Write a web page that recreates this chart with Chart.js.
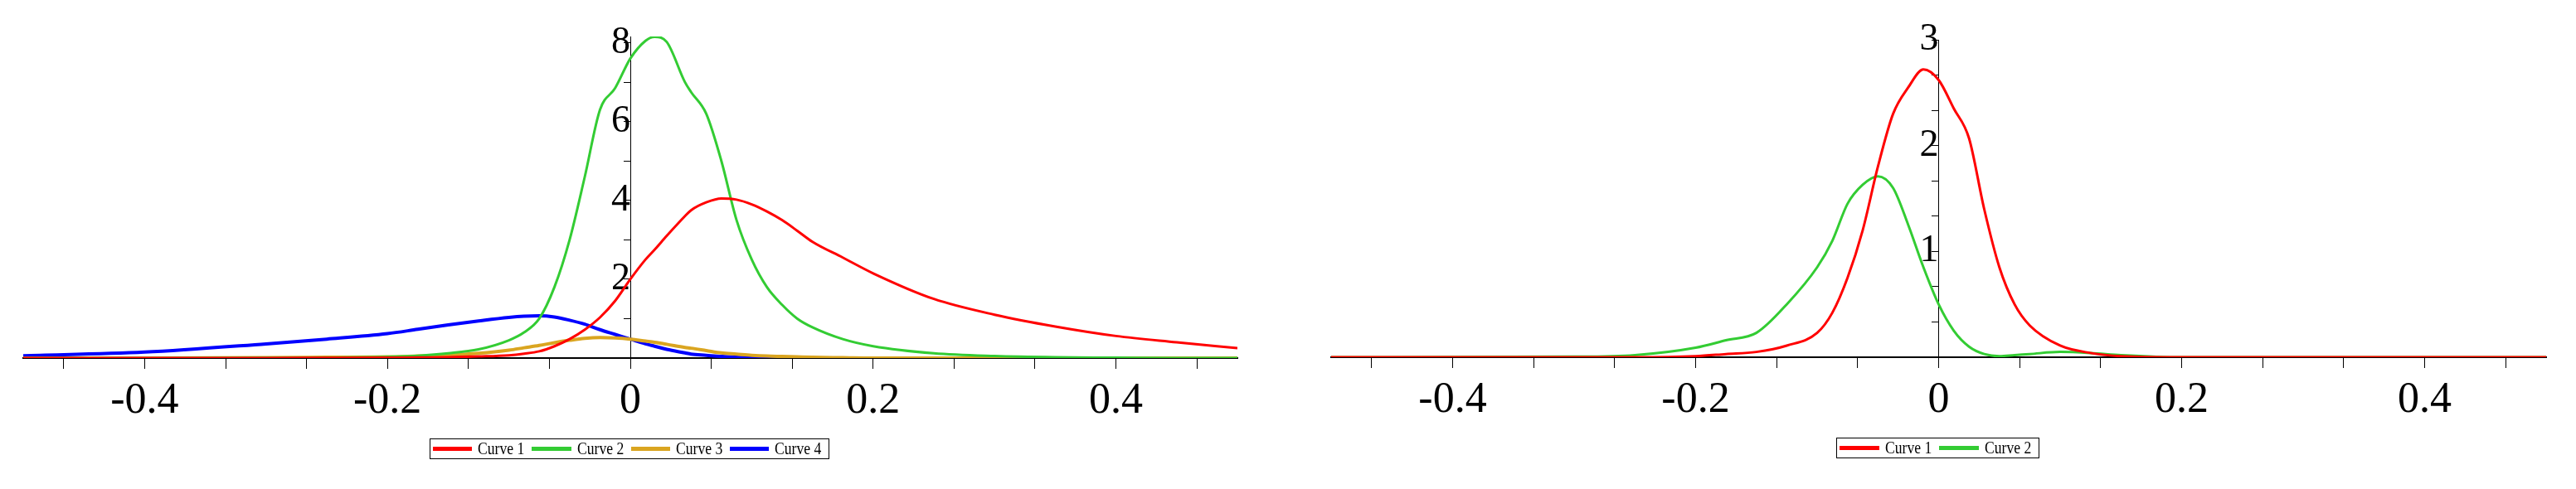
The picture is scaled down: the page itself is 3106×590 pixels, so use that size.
<!DOCTYPE html>
<html>
<head>
<meta charset="utf-8">
<script src="https://cdn.jsdelivr.net/npm/chart.js@4/dist/chart.umd.min.js"></script>
<style>
  body { margin: 0; background: #fff; width: 3106px; height: 590px; overflow: hidden; }
  .panel { position: absolute; top: 0; width: 1553px; height: 590px; }
  .legend { position: absolute; border: 1px solid #000; height: 25px; display: flex; align-items: center;
            font-family: 'Liberation Serif', serif; font-size: 20px; padding: 0 0 0 3px; box-sizing: border-box; }
  .legend .sw { display: inline-block; width: 48px; height: 5px; margin-right: 7px; }
  .legend .tx { display: inline-block; width: 58px; margin-right: 7px; white-space: nowrap; }
  .legend .tx span { display: inline-block; transform: scaleX(0.88); transform-origin: left center; }
</style>
</head>
<body>
<div class="panel" style="left:0"><canvas id="left"></canvas>
  <div class="legend" id="legLeft" style="left:518px; top:529px; width:482px"></div></div>
<div class="panel" style="left:1553px"><canvas id="right"></canvas>
  <div class="legend" id="legRight" style="left:661px; top:528px; width:245px"></div></div>
<script>
// --- ДАННЫЕ: левый график ---
const xLeft = [-0.5, -0.4, -0.3, -0.25, -0.2, -0.175, -0.15, -0.125, -0.1, -0.0875, -0.075, -0.0625, -0.05, -0.0375, -0.025, -0.0125, 0, 0.0125, 0.02, 0.03, 0.045, 0.05, 0.0625, 0.075, 0.0875, 0.1, 0.1125, 0.125, 0.1375, 0.15, 0.175, 0.2, 0.25, 0.3, 0.35, 0.4, 0.45, 0.5];
const leftCurve1 = [0, 0, 0, 0.005, 0.01, 0.015, 0.02, 0.04, 0.07, 0.11, 0.17, 0.3, 0.48, 0.72, 1.03, 1.45, 2.0, 2.5, 2.75, 3.1, 3.6, 3.75, 3.95, 4.05, 4.02, 3.9, 3.72, 3.5, 3.23, 2.95, 2.55, 2.15, 1.5, 1.1, 0.8, 0.56, 0.4, 0.25];
const leftCurve2 = [0, 0, 0.005, 0.01, 0.03, 0.06, 0.12, 0.22, 0.45, 0.65, 1.0, 1.8, 3.0, 4.6, 6.3, 6.85, 7.6, 8.05, 8.15, 8.02, 7.0, 6.75, 6.2, 5.0, 3.5, 2.5, 1.8, 1.35, 1.0, 0.78, 0.48, 0.3, 0.12, 0.05, 0.02, 0.01, 0, 0];
const leftCurve3 = [0, 0, 0.01, 0.02, 0.03, 0.05, 0.07, 0.12, 0.2, 0.26, 0.32, 0.39, 0.45, 0.5, 0.52, 0.51, 0.48, 0.43, 0.4, 0.35, 0.27, 0.25, 0.19, 0.13, 0.1, 0.07, 0.05, 0.04, 0.03, 0.02, 0.01, 0, 0, 0, 0, 0, 0, 0];
const leftCurve4 = [0.06, 0.15, 0.36, 0.48, 0.62, 0.73, 0.84, 0.94, 1.03, 1.06, 1.07, 1.04, 0.96, 0.86, 0.72, 0.6, 0.48, 0.36, 0.3, 0.22, 0.13, 0.1, 0.07, 0.04, 0.02, 0.01, 0, 0, 0, 0, 0, 0, 0, 0, 0, 0, 0, 0];

// --- ДАННЫЕ: правый график ---
const xRight = [-0.5, -0.3, -0.25, -0.2, -0.175, -0.15, -0.125, -0.1, -0.0875, -0.075, -0.0625, -0.05, -0.0375, -0.025, -0.0125, 0, 0.0125, 0.025, 0.0375, 0.05, 0.0625, 0.075, 0.1, 0.125, 0.15, 0.2, 0.3, 0.5];
const rightCurve1 = [0, 0, 0, 0.01, 0.03, 0.05, 0.11, 0.23, 0.42, 0.75, 1.2, 1.8, 2.3, 2.55, 2.72, 2.62, 2.35, 2.07, 1.4, 0.85, 0.5, 0.3, 0.11, 0.04, 0.01, 0, 0, 0];
const rightCurve2 = [0, 0.005, 0.02, 0.09, 0.16, 0.23, 0.5, 0.85, 1.1, 1.45, 1.63, 1.71, 1.6, 1.25, 0.85, 0.5, 0.25, 0.1, 0.03, 0.01, 0.02, 0.03, 0.05, 0.04, 0.02, 0, 0, 0];

const xTickLabels = ['-0.4', '-0.2', '0', '0.2', '0.4'];
const labelsLeft = ['Curve 1', 'Curve 2', 'Curve 3', 'Curve 4'];
const labelsRight = ['Curve 1', 'Curve 2'];
const colors = ['#ff0000', '#33cc33', '#daa520', '#0000ff'];

const FONT = "'Liberation Serif', 'DejaVu Serif', serif";

function pts(xs, ys) { return xs.map((x, i) => ({ x: x, y: ys[i] })); }

function ds(label, xs, ys, color, width) {
  return { label, data: pts(xs, ys), borderColor: color, borderWidth: width, pointRadius: 0,
           cubicInterpolationMode: 'monotone', fill: false };
}

// тики: мелкие деления + подписи только на некоторых
function stepTicks(min, max, step) {
  const out = [];
  for (let v = min; v <= max + 1e-9; v += step) out.push({ value: +v.toFixed(6) });
  return out;
}

function makeChart(id, datasets, yMax, yStep, yLabelEvery, pad, xHeight) {
  new Chart(document.getElementById(id), {
    type: 'line',
    data: { datasets },
    options: {
      responsive: false, animation: false,
      layout: { padding: pad },
      plugins: { legend: { display: false }, tooltip: { enabled: false } },
      scales: {
        x: {
          type: 'linear', min: -0.5, max: 0.5,
          afterBuildTicks: s => { s.ticks = stepTicks(-0.5 + 0.2 / 6, 0.5, 0.2 / 3); },
          afterFit: s => { s.height = xHeight; },
          ticks: {
            autoSkip: false, maxRotation: 0, padding: 8, color: '#000',
            font: { family: FONT, size: 52 },
            callback: v => {
              const k = Math.round(v / 0.2);
              if (Math.abs(v - k * 0.2) > 1e-4) return '';
              const lab = (k * 0.2).toFixed(1).replace(/^0\.0$|^-0\.0$/, '0');
              return xTickLabels.includes(lab) ? lab : '';
            }
          },
          grid: { drawOnChartArea: false, tickLength: 13, color: '#000', lineWidth: 1 },
          border: { color: '#000', width: 2 }
        },
        y: {
          type: 'linear', min: 0, max: yMax, position: { x: 0 },
          afterBuildTicks: s => { s.ticks = stepTicks(0, yMax, yStep); },
          ticks: {
            autoSkip: false, padding: 12, color: '#000',
            font: { family: FONT, size: 46 },
            callback: v => {
              const n = Math.round(v / yLabelEvery);
              if (v < 1e-6 || Math.abs(v - n * yLabelEvery) > 1e-4) return '';
              return String(Math.round(v));
            }
          },
          grid: { drawOnChartArea: false, tickLength: 8, color: '#000', lineWidth: 1 },
          border: { color: '#000', width: 1 }
        }
      }
    }
  });
}

function makeLegend(id, labels) {
  const el = document.getElementById(id);
  labels.forEach((l, i) => {
    el.insertAdjacentHTML('beforeend',
      `<span class="sw" style="background:${colors[i]}"></span><span class="tx"><span>${l}</span></span>`);
  });
}

for (const id of ['left', 'right']) {
  const c = document.getElementById(id); c.width = 1553; c.height = 590;
}

makeChart('left', [
  ds(labelsLeft[0], xLeft, leftCurve1, colors[0], 3),
  ds(labelsLeft[1], xLeft, leftCurve2, colors[1], 3),
  ds(labelsLeft[2], xLeft, leftCurve3, colors[2], 4),
  ds(labelsLeft[3], xLeft, leftCurve4, colors[3], 4)
], 8.16, 1, 2, { left: 28, right: 61, top: 44, bottom: 0 }, 158);

makeChart('right', [
  ds(labelsRight[0], xRight, rightCurve1, colors[0], 3),
  ds(labelsRight[1], xRight, rightCurve2, colors[1], 3)
], 3, 1 / 3, 1, { left: 52, right: 36, top: 48, bottom: 0 }, 159);

makeLegend('legLeft', labelsLeft);
makeLegend('legRight', labelsRight);
</script>
</body>
</html>
